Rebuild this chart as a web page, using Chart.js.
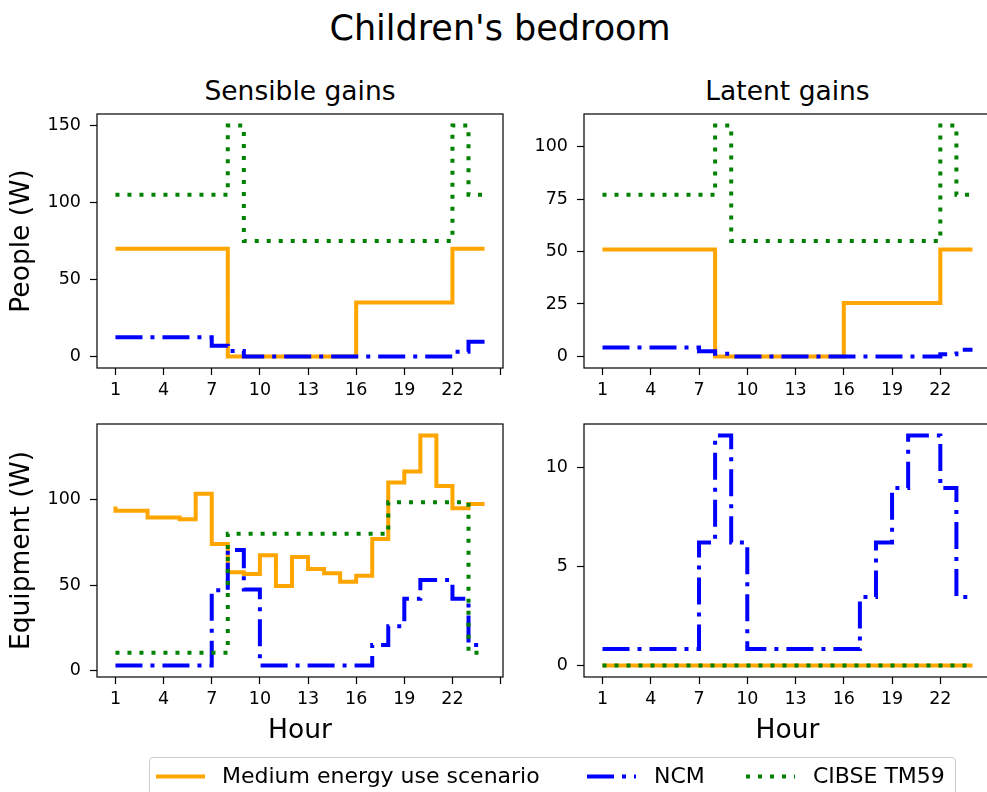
<!DOCTYPE html>
<html>
<head>
<meta charset="utf-8">
<title>Children's bedroom</title>
<script src="https://cdn.jsdelivr.net/npm/chart.js@4.4.1/dist/chart.umd.min.js"></script>
<style>
  html, body { margin: 0; padding: 0; background: #fff; }
  body { width: 987px; height: 792px; position: relative; overflow: hidden;
         font-family: 'DejaVu Sans', sans-serif; color: #000; }
  canvas { position: absolute; }
  .txt { position: absolute; line-height: 1; white-space: nowrap; }
  .center { text-align: center; }
  #legend { position: absolute; left: 149px; top: 757px; width: 805px; height: 60px;
            border: 1px solid #cccccc; border-radius: 4px; background: #fff; }
  #handles { position: absolute; left: 0; top: 0; }
</style>
</head>
<body>

<div class="txt center" style="left:0; width:1000px; top:11px; font-size:35px;">Children's bedroom</div>
<div class="txt center" style="left:97px; width:406px; top:77.5px; font-size:26.5px;">Sensible gains</div>
<div class="txt center" style="left:584px; width:407px; top:77.5px; font-size:26.5px;">Latent gains</div>

<canvas id="peopleSensible" width="520" height="318" style="left:0; top:90px;"></canvas>
<canvas id="peopleLatent" width="508" height="318" style="left:500px; top:90px;"></canvas>
<canvas id="equipSensible" width="520" height="351" style="left:0; top:400px;"></canvas>
<canvas id="equipLatent" width="508" height="351" style="left:500px; top:400px;"></canvas>

<div id="legend"></div>
<svg id="handles" width="987" height="792">
  <line x1="156" y1="776.5" x2="205" y2="776.5" stroke="#FFA500" stroke-width="4"/>
  <line x1="587" y1="776.5" x2="636" y2="776.5" stroke="#0000FF" stroke-width="4" stroke-dasharray="27 8 4 8"/>
  <line x1="746" y1="776.5" x2="795" y2="776.5" stroke="#008000" stroke-width="4" stroke-dasharray="4 8"/>
</svg>
<div class="txt" style="left:222px; top:765px; font-size:22px;">Medium energy use scenario</div>
<div class="txt" style="left:654px; top:765px; font-size:22px;">NCM</div>
<div class="txt" style="left:813px; top:765px; font-size:22px;">CIBSE TM59</div>

<script>
// hour of day and hour-axis ticks
const hours = [1, 2, 3, 4, 5, 6, 7, 8, 9, 10, 11, 12, 13, 14, 15, 16, 17, 18, 19, 20, 21, 22, 23, 24];
const hourTicks = [1, 4, 7, 10, 13, 16, 19, 22, 25];
const hourTickLabels = ['1', '4', '7', '10', '13', '16', '19', '22', ''];

const seriesNames = ['Medium energy use scenario', 'NCM', 'CIBSE TM59'];

// people gains (W)
const peopleSensibleMedium = [70, 70, 70, 70, 70, 70, 70, 70, 0, 0, 0, 0, 0, 0, 0, 0, 35, 35, 35, 35, 35, 35, 70, 70];
const peopleSensibleNCM = [12.5, 12.5, 12.5, 12.5, 12.5, 12.5, 12.5, 7, 3.5, 0, 0, 0, 0, 0, 0, 0, 0, 0, 0, 0, 0, 0, 3, 9.5];
const peopleSensibleTM59 = [105, 105, 105, 105, 105, 105, 105, 105, 150, 75, 75, 75, 75, 75, 75, 75, 75, 75, 75, 75, 75, 75, 150, 105];

const peopleLatentMedium = [51, 51, 51, 51, 51, 51, 51, 51, 0, 0, 0, 0, 0, 0, 0, 0, 25.5, 25.5, 25.5, 25.5, 25.5, 25.5, 51, 51];
const peopleLatentNCM = [4.3, 4.3, 4.3, 4.3, 4.3, 4.3, 4.3, 2.5, 1.3, 0, 0, 0, 0, 0, 0, 0, 0, 0, 0, 0, 0, 0, 1.1, 3.2];
const peopleLatentTM59 = [77, 77, 77, 77, 77, 77, 77, 77, 110, 55, 55, 55, 55, 55, 55, 55, 55, 55, 55, 55, 55, 55, 110, 77];

// equipment gains (W)
const equipSensibleMedium = [96, 93.5, 93.5, 89.5, 89.5, 88.5, 103.5, 74, 57.5, 56.5, 67.5, 49.5, 66.5, 59.5, 57, 52, 55.5, 77, 110, 116.5, 137.5, 108, 95, 97.5];
const equipSensibleNCM = [3, 3, 3, 3, 3, 3, 3, 47, 70.5, 47.5, 3, 3, 3, 3, 3, 3, 3, 15, 26, 42, 53, 53, 42, 15];
const equipSensibleTM59 = [10.5, 10.5, 10.5, 10.5, 10.5, 10.5, 10.5, 10.5, 80, 80, 80, 80, 80, 80, 80, 80, 80, 80, 98.5, 98.5, 98.5, 98.5, 98.5, 10.5];

const equipLatentMedium = [0, 0, 0, 0, 0, 0, 0, 0, 0, 0, 0, 0, 0, 0, 0, 0, 0, 0, 0, 0, 0, 0, 0, 0];
const equipLatentNCM = [0.83, 0.83, 0.83, 0.83, 0.83, 0.83, 0.83, 6.2, 11.6, 6.2, 0.83, 0.83, 0.83, 0.83, 0.83, 0.83, 0.83, 3.45, 6.2, 8.95, 11.6, 11.6, 8.95, 3.45];
const equipLatentTM59 = [0, 0, 0, 0, 0, 0, 0, 0, 0, 0, 0, 0, 0, 0, 0, 0, 0, 0, 0, 0, 0, 0, 0, 0];

const colors = ['#FFA500', '#0000FF', '#008000'];
const dashes = [[], [27, 8, 4, 8], [4, 8]];

Chart.defaults.font.family = "'DejaVu Sans', sans-serif";
Chart.defaults.color = '#000';

// black box around the plot area
const frame = {
  id: 'frame',
  afterDraw(chart) {
    const { ctx, chartArea: a } = chart;
    ctx.save();
    ctx.strokeStyle = '#000';
    ctx.lineWidth = 1.2;
    ctx.strokeRect(a.left, a.top, a.right - a.left, a.bottom - a.top);
    ctx.restore();
  }
};

function drawPanel(id, series, yTicks, opts) {
  const all = series.flat();
  const lo = Math.min(...all), hi = Math.max(...all);
  const margin = (hi - lo) * 0.05;
  const tickGrid = { drawOnChartArea: false, tickLength: 7, tickColor: '#000', tickWidth: 1.2 };

  new Chart(document.getElementById(id), {
    type: 'line',
    data: {
      datasets: series.map((vals, k) => ({
        label: seriesNames[k],
        data: hours.map((h, i) => ({ x: h, y: vals[i] })),
        borderColor: colors[k],
        borderWidth: 4,
        borderDash: dashes[k],
        stepped: 'after',
        pointRadius: 0,
        fill: false,
        order: 2 - k
      }))
    },
    options: {
      responsive: false,
      animation: false,
      devicePixelRatio: 1,
      events: [],
      layout: { padding: { top: 24, left: 0, right: 17, bottom: 0 } },
      plugins: { legend: { display: false }, tooltip: { enabled: false } },
      scales: {
        x: {
          type: 'linear',
          min: -0.15,
          max: 25.15,
          afterBuildTicks: s => { s.ticks = hourTicks.map(v => ({ value: v })); },
          afterFit: s => { s.height = opts.xHeight; },
          ticks: {
            autoSkip: false, maxRotation: 0, padding: 5, font: { size: 17.5 },
            callback: v => hourTickLabels[hourTicks.indexOf(v)]
          },
          grid: tickGrid,
          border: { display: false },
          title: {
            display: !!opts.xTitle, text: opts.xTitle || '',
            font: { size: 26.5 }, padding: { top: 0, bottom: 4 }
          }
        },
        y: {
          min: lo - margin,
          max: hi + margin,
          afterBuildTicks: s => { s.ticks = yTicks.map(v => ({ value: v })); },
          afterFit: s => { s.width = opts.yWidth; },
          ticks: { padding: 9, font: { size: 17.5 } },
          grid: tickGrid,
          border: { display: false },
          title: {
            display: !!opts.yTitle, text: opts.yTitle || '',
            font: { size: 26.5 }, padding: { top: 6, bottom: 0 }
          }
        }
      }
    },
    plugins: [frame]
  });
}

drawPanel('peopleSensible', [peopleSensibleMedium, peopleSensibleNCM, peopleSensibleTM59],
  [0, 50, 100, 150], { yWidth: 97, xHeight: 40, yTitle: 'People (W)' });
drawPanel('peopleLatent', [peopleLatentMedium, peopleLatentNCM, peopleLatentTM59],
  [0, 25, 50, 75, 100], { yWidth: 84, xHeight: 40 });
drawPanel('equipSensible', [equipSensibleMedium, equipSensibleNCM, equipSensibleTM59],
  [0, 50, 100], { yWidth: 97, xHeight: 74, yTitle: 'Equipment (W)', xTitle: 'Hour' });
drawPanel('equipLatent', [equipLatentMedium, equipLatentNCM, equipLatentTM59],
  [0, 5, 10], { yWidth: 84, xHeight: 74, xTitle: 'Hour' });
</script>
</body>
</html>
